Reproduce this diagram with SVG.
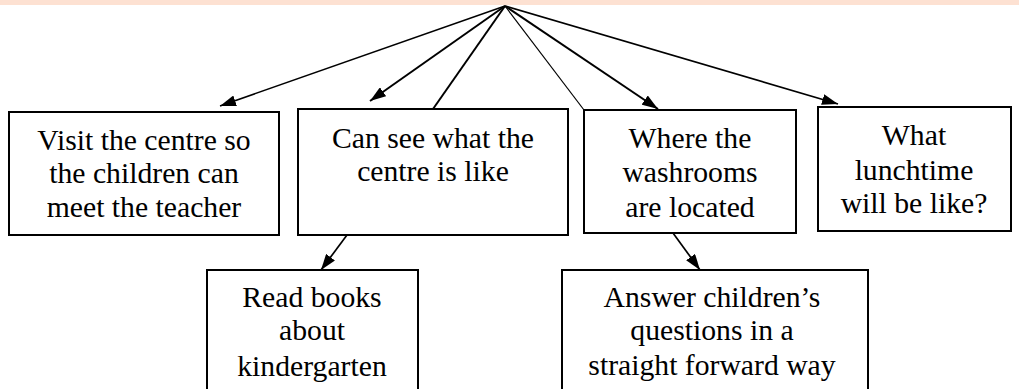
<svg xmlns="http://www.w3.org/2000/svg" width="1019" height="389" viewBox="0 0 1019 389">
<style>
.box{fill:#fff;stroke:#000;stroke-width:2}
.t{font-family:"Liberation Serif","Times New Roman",serif;font-size:29.7px;fill:#000;text-anchor:middle}
.c{stroke:#000;fill:none}
</style>
<defs>
<marker id="ah" viewBox="0 0 16 11" refX="16" refY="5.5" markerWidth="16" markerHeight="11" markerUnits="userSpaceOnUse" orient="auto">
<path d="M0,0 L16,5.5 L0,11 Z" fill="#000"/>
</marker>
</defs>
<rect x="0" y="0" width="1019" height="5" fill="#FDE1D2"/>
<g id="connectors">
<line class="c" x1="505" y1="6" x2="220" y2="106" stroke-width="1.5" marker-end="url(#ah)"/>
<line class="c" x1="505" y1="6" x2="370" y2="101" stroke-width="2" marker-end="url(#ah)"/>
<line class="c" x1="505" y1="6" x2="433" y2="109" stroke-width="2"/>
<line class="c" x1="505" y1="6" x2="584" y2="110" stroke-width="1.2"/>
<line class="c" x1="505" y1="6" x2="658" y2="109" stroke-width="2" marker-end="url(#ah)"/>
<line class="c" x1="505" y1="6" x2="838" y2="104" stroke-width="1.7" marker-end="url(#ah)"/>
<line class="c" x1="347" y1="235" x2="321" y2="270" stroke-width="1.7" marker-end="url(#ah)"/>
<line class="c" x1="673" y1="233" x2="700" y2="270" stroke-width="1.7" marker-end="url(#ah)"/>
</g>
<g id="n1">
<rect class="box" x="9" y="112" width="270" height="123"/>
<text class="t" x="144" y="150">Visit the centre so</text>
<text class="t" x="144" y="183">the children can</text>
<text class="t" x="144" y="217">meet the teacher</text>
</g>
<g id="n2">
<rect class="box" x="298" y="109" width="270" height="126"/>
<text class="t" x="433" y="148">Can see what the</text>
<text class="t" x="433" y="181">centre is like</text>
</g>
<g id="n3">
<rect class="box" x="584" y="110" width="212" height="123"/>
<text class="t" x="690" y="148">Where the</text>
<text class="t" x="690" y="182">washrooms</text>
<text class="t" x="690" y="217">are located</text>
</g>
<g id="n4">
<rect class="box" x="818" y="107" width="193" height="124"/>
<text class="t" x="914" y="145">What</text>
<text class="t" x="914" y="180">lunchtime</text>
<text class="t" x="914" y="213">will be like?</text>
</g>
<g id="n5">
<rect class="box" x="207" y="270" width="211" height="125"/>
<text class="t" x="312" y="307">Read books</text>
<text class="t" x="312" y="340">about</text>
<text class="t" x="312" y="376">kindergarten</text>
</g>
<g id="n6">
<rect class="box" x="562" y="270" width="306" height="125"/>
<text class="t" x="712" y="307">Answer children’s</text>
<text class="t" x="712" y="340">questions in a</text>
<text class="t" x="712" y="375">straight forward way</text>
</g>
</svg>
